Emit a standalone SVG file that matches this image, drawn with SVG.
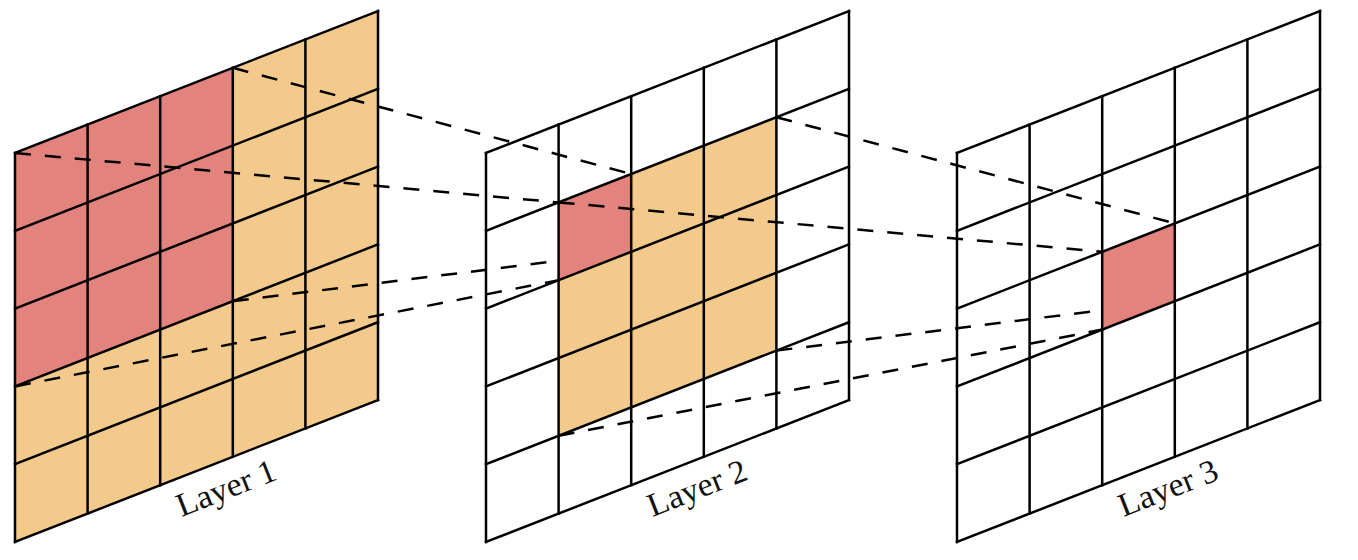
<svg xmlns="http://www.w3.org/2000/svg" xmlns:xlink="http://www.w3.org/1999/xlink" width="1358" height="560" viewBox="0 0 1358 560">
  <style>
    .grid { fill: none; stroke: #000; stroke-width: 2.5; stroke-linecap: square; }
    .orange { fill: #F4CA8C; stroke: none; }
    .red { fill: #E2837D; stroke: none; }
    .conn { fill: none; stroke: #000; stroke-width: 2.5; stroke-dasharray: 16 14; }
    .label { font-family: "Liberation Serif", "DejaVu Serif", serif; font-size: 33px; fill: #111; text-anchor: middle; }
  </style>
  <defs>
    <g id="grid" class="grid">
      <line x1="0" y1="0" x2="0" y2="389"/>
      <line x1="72.6" y1="-28.4" x2="72.6" y2="360.6"/>
      <line x1="145.2" y1="-56.8" x2="145.2" y2="332.2"/>
      <line x1="217.8" y1="-85.2" x2="217.8" y2="303.8"/>
      <line x1="290.4" y1="-113.6" x2="290.4" y2="275.4"/>
      <line x1="363" y1="-142" x2="363" y2="247"/>
      <line x1="0" y1="0" x2="363" y2="-142"/>
      <line x1="0" y1="77.8" x2="363" y2="-64.2"/>
      <line x1="0" y1="155.6" x2="363" y2="13.6"/>
      <line x1="0" y1="233.4" x2="363" y2="91.4"/>
      <line x1="0" y1="311.2" x2="363" y2="169.2"/>
      <line x1="0" y1="389" x2="363" y2="247"/>
    </g>
  </defs>

  <g id="layer1" transform="translate(15,153)">
    <polygon class="orange" points="0,0 363,-142 363,247 0,389"/>
    <polygon class="red" points="0,0 217.8,-85.2 217.8,148.2 0,233.4"/>
    <use xlink:href="#grid" href="#grid"/>
    <text class="label" transform="translate(215,345) rotate(-21.4)" textLength="104" lengthAdjust="spacingAndGlyphs">Layer 1</text>
  </g>

  <g id="layer2" transform="translate(486,153)">
    <polygon class="orange" points="72.6,49.4 290.4,-35.8 290.4,197.6 72.6,282.8"/>
    <polygon class="red" points="72.6,49.4 145.2,21 145.2,98.8 72.6,127.2"/>
    <use xlink:href="#grid" href="#grid"/>
    <text class="label" transform="translate(215,345) rotate(-21.4)" textLength="104" lengthAdjust="spacingAndGlyphs">Layer 2</text>
  </g>

  <g id="layer3" transform="translate(957,153)">
    <polygon class="red" points="145.2,98.8 217.8,70.4 217.8,148.2 145.2,176.6"/>
    <use xlink:href="#grid" href="#grid"/>
    <text class="label" transform="translate(215,345) rotate(-21.4)" textLength="104" lengthAdjust="spacingAndGlyphs">Layer 3</text>
  </g>

  <g id="connectors" class="conn">
    <line x1="232.8" y1="67.8" x2="631.2" y2="174"/>
    <line x1="15" y1="153" x2="558.6" y2="202.4"/>
    <line x1="232.8" y1="301.2" x2="558.6" y2="260.8"/>
    <line x1="15" y1="386.4" x2="558.6" y2="280.2"/>
    <line x1="558.6" y1="202.4" x2="1102.2" y2="251.8"/>
    <line x1="776.4" y1="117.2" x2="1174.8" y2="223.4"/>
    <line x1="558.6" y1="435.8" x2="1102.2" y2="329.6"/>
    <line x1="776.4" y1="350.6" x2="1102.2" y2="310.2"/>
  </g>
</svg>
